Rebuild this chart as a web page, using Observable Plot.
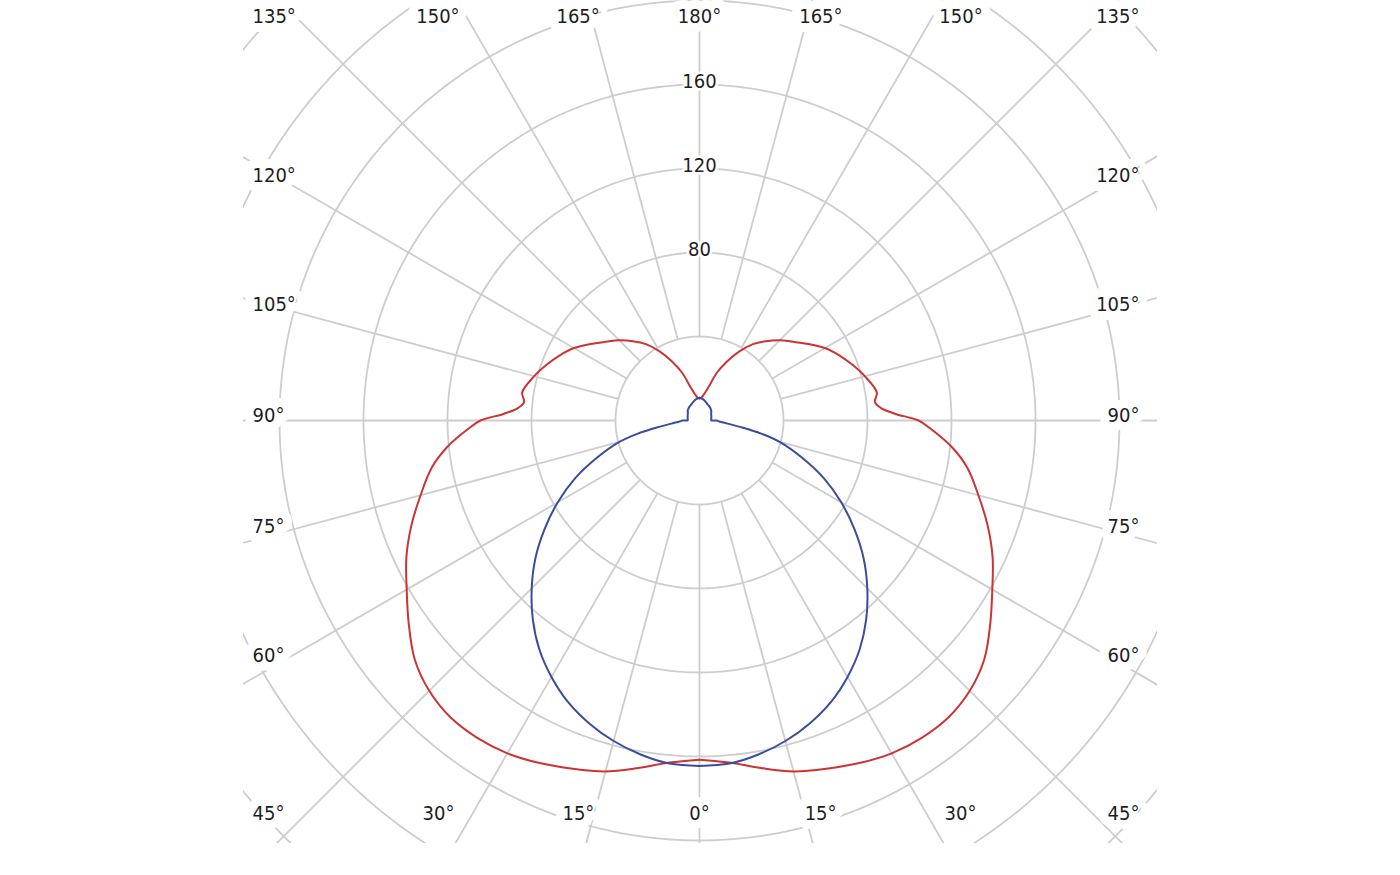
<!DOCTYPE html>
<html>
<head>
<meta charset="utf-8">
<script src="https://cdn.jsdelivr.net/npm/d3@7"></script>
<script src="https://cdn.jsdelivr.net/npm/@observablehq/plot@0.6"></script>
<style>
  html, body { margin: 0; padding: 0; background: #ffffff; }
  #chart svg { display: block; }
</style>
</head>
<body>
<div id="chart"></div>
<script>
// ---------------- Data ----------------
// Red curve: polar angle (deg, 0 = down) and intensity
const redAngles = [0, 5, 10, 15, 20, 25, 30, 35, 40, 45, 50, 55, 60, 65, 70, 75, 80, 84, 88, 90,
                   92, 94, 96, 99, 105, 110, 115, 120, 125, 130, 135, 140, 145, 150, 155, 160, 165, 170, 175, 180];
const redValues = [161.5, 163.5, 168, 173, 176.5, 180, 183, 184.5, 184.5, 182, 177, 169, 161, 154, 146, 137.5, 129.5, 120.8, 110, 104.3,
                   93, 86.5, 84, 85.5, 81.5, 77.5, 73.4, 69, 63.5, 58.3, 54, 49.3, 44.4, 38, 31, 24.2, 16.4, 12.8, 11, 10.5];

// Blue curve
const blueAngles = [0, 5, 10, 15, 20, 25, 30, 35, 40, 45, 50, 55, 60, 65, 70, 75, 78, 81, 84, 87, 90,
                    91, 100, 110, 120, 125, 130, 140, 150, 160, 170, 180];
const blueValues = [164.5, 164, 161.5, 158, 153.5, 148, 141, 133, 123.5, 113, 102, 90, 78, 65.5, 52, 39.5, 30, 19.5, 13, 9.5, 8.2,
                    5.6, 5.7, 6.0, 6.4, 6.8, 7.3, 7.9, 8.4, 9.2, 10.2, 10.8];

// Grid / tick values
const radialTicks = [40, 80, 120, 160, 200, 240, 280];
const radialLabelTicks = [80, 120, 160];
const angleTicks = [0, 15, 30, 45, 60, 75, 90, 105, 120, 135, 150, 165, 180];

// ---------------- Layout helpers ----------------
const K = 2.1;            // pixels per intensity unit
const X0 = 699, Y0 = 420; // polar centre in pixels
const W = 1400, H = 875;
const frame = {left: 243, right: 1157, top: 0, bottom: 843};
const rad = d => d * Math.PI / 180;
const ux = px => (px - X0) / K;
const uy = py => (Y0 - py) / K;

function polarRows(angles, values) {
  const rows = [];
  for (const side of [-1, 1]) {
    angles.forEach((a, i) => rows.push({
      side, a, v: values[i],
      x: side * values[i] * Math.sin(rad(a)),
      y: -values[i] * Math.cos(rad(a))
    }));
  }
  return rows;
}
const redRows = polarRows(redAngles, redValues);
const blueRows = polarRows(blueAngles, blueValues);

// grid circles
const circleRows = [];
for (const r of radialTicks) {
  for (let d = 0; d <= 360; d += 1) {
    circleRows.push({r, x: r * Math.sin(rad(d)), y: r * Math.cos(rad(d))});
  }
}

// spokes
const spokeRows = [];
for (const a of angleTicks) {
  const sides = (a === 0 || a === 180) ? [1] : [-1, 1];
  for (const s of sides) spokeRows.push({a, s});
}

// angle labels
const leftLabels = [], rightLabels = [], midLabels = [];
const clamp = (v, lo, hi) => Math.max(lo, Math.min(hi, v));
for (const a of angleTicks) {
  const sides = (a === 0 || a === 180) ? [0] : [-1, 1];
  for (const s of sides) {
    if (a >= 45 && a <= 135) {
      const cot = Math.cos(rad(a)) / Math.sin(rad(a));
      const py = clamp(Y0 + cot * 415 - 5, 16, 813);
      const row = {label: a + "\u00b0", y: uy(py)};
      if (s < 0) leftLabels.push({...row, x: ux(252)});
      else rightLabels.push({...row, x: ux(1139)});
    } else if (a > 135) {
      midLabels.push({label: a + "\u00b0", x: s * Math.tan(rad(180 - a)) * 453 / K, y: uy(16)});
    } else {
      midLabels.push({label: a + "\u00b0", x: s * Math.tan(rad(a)) * 452 / K, y: uy(813)});
    }
  }
}

const FONT = "'DejaVu Sans Condensed', 'Liberation Sans', sans-serif";
const GRID = "#cdcdcd";
const textCommon = {
  text: "label", fontSize: 20, fontFamily: FONT, fill: "#1e1e1e",
  stroke: "white", strokeWidth: 18, strokeLinejoin: "round", paintOrder: "stroke"
};

const chart = Plot.plot({
  width: W, height: H,
  marginLeft: frame.left, marginRight: W - frame.right,
  marginTop: frame.top, marginBottom: H - frame.bottom,
  x: {domain: [ux(frame.left), ux(frame.right)], axis: null},
  y: {domain: [uy(frame.bottom), uy(frame.top)], axis: null},
  style: {background: "white"},
  marks: [
    Plot.line(circleRows, {x: "x", y: "y", z: "r", stroke: GRID, strokeWidth: 1.8, clip: true}),
    Plot.link(spokeRows, {
      x1: d => d.s * 40 * Math.sin(rad(d.a)), y1: d => -40 * Math.cos(rad(d.a)),
      x2: d => d.s * 400 * Math.sin(rad(d.a)), y2: d => -400 * Math.cos(rad(d.a)),
      stroke: GRID, strokeWidth: 1.8, clip: true
    }),
    Plot.line(redRows, {x: "x", y: "y", z: "side", stroke: "#cc3333", strokeWidth: 2, curve: "catmull-rom", clip: true}),
    Plot.line(blueRows, {x: "x", y: "y", z: "side", stroke: "#3a4d9c", strokeWidth: 2, curve: "catmull-rom", clip: true}),
    Plot.text(radialLabelTicks, {
      x: 0, y: d => d, text: d => String(d), dy: -3,
      fontSize: 20, fontFamily: FONT, fill: "#1e1e1e",
      stroke: "white", strokeWidth: 5, strokeLinejoin: "round", paintOrder: "stroke"
    }),
    Plot.text(leftLabels, {x: "x", y: "y", textAnchor: "start", ...textCommon}),
    Plot.text(rightLabels, {x: "x", y: "y", textAnchor: "end", ...textCommon}),
    Plot.text(midLabels, {x: "x", y: "y", textAnchor: "middle", ...textCommon})
  ]
});
document.getElementById("chart").appendChild(chart);
</script>
</body>
</html>
